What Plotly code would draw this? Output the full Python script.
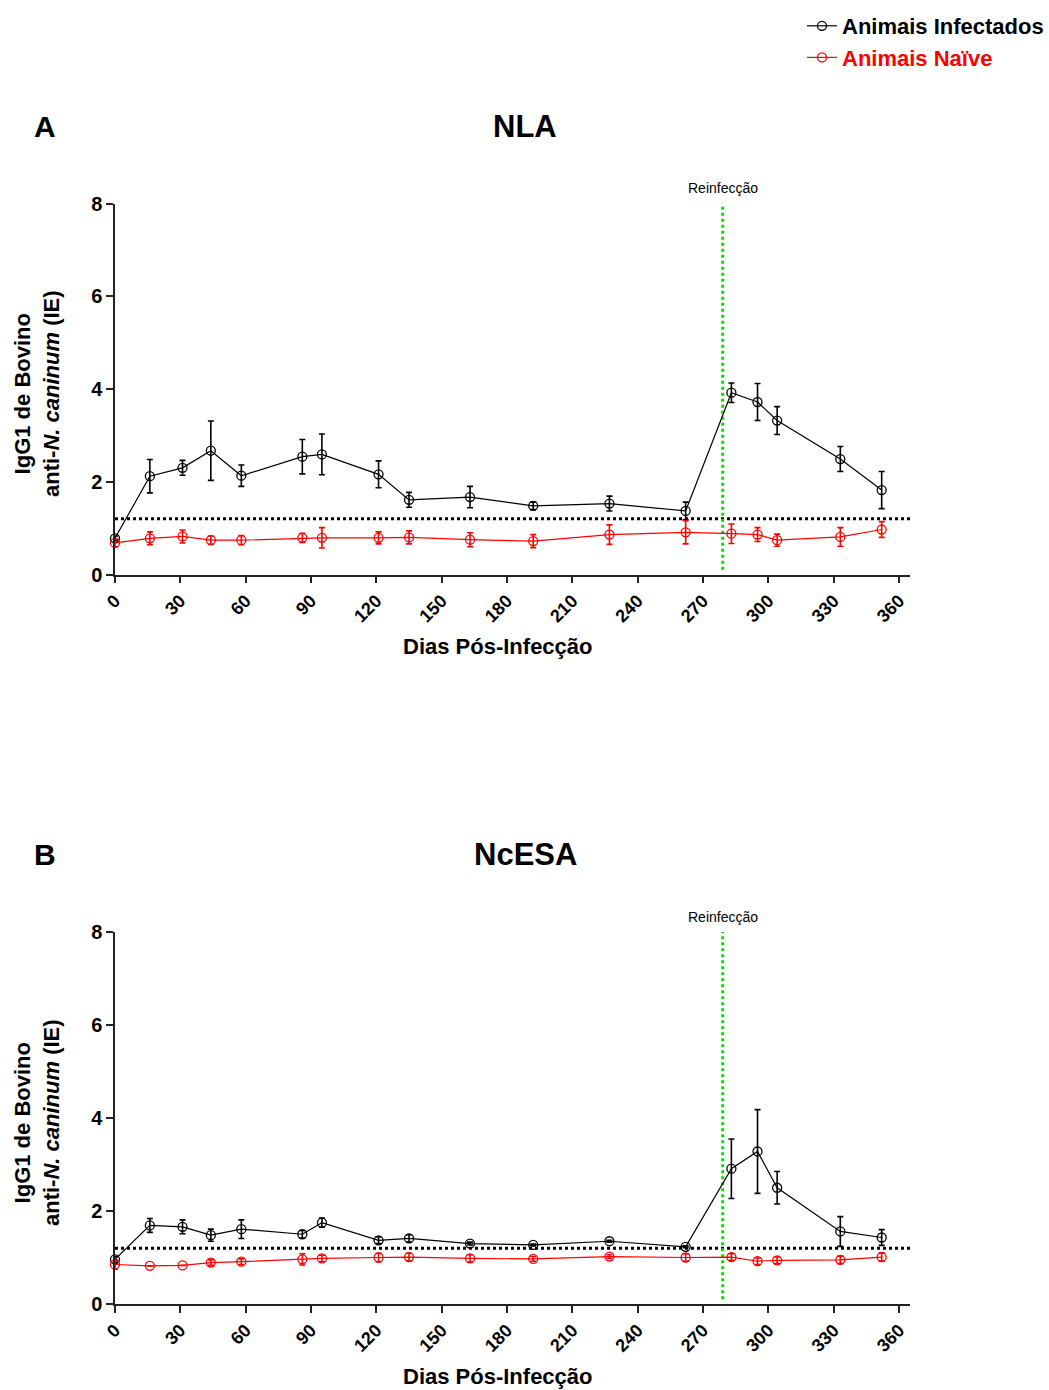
import plotly.graph_objects as go

# ---------------- data ----------------
days = [0, 16, 31, 44, 58, 86, 95, 121, 135, 163, 192, 227, 262, 283, 295, 304, 333, 352]

nla_inf = [0.78, 2.12, 2.30, 2.67, 2.13, 2.54, 2.59, 2.16, 1.61, 1.67, 1.48, 1.53, 1.37, 3.92, 3.72, 3.32, 2.49, 1.82]
nla_inf_err = [0.05, 0.36, 0.16, 0.64, 0.23, 0.37, 0.44, 0.29, 0.16, 0.23, 0.08, 0.16, 0.19, 0.21, 0.40, 0.30, 0.27, 0.40]
nla_nai = [0.68, 0.78, 0.82, 0.74, 0.74, 0.79, 0.79, 0.79, 0.80, 0.75, 0.72, 0.86, 0.91, 0.88, 0.86, 0.74, 0.81, 0.97]
nla_nai_err = [0.08, 0.14, 0.14, 0.09, 0.10, 0.10, 0.22, 0.13, 0.14, 0.15, 0.14, 0.21, 0.25, 0.21, 0.15, 0.13, 0.20, 0.17]

ncesa_inf = [0.96, 1.69, 1.66, 1.48, 1.61, 1.50, 1.75, 1.37, 1.41, 1.30, 1.27, 1.35, 1.23, 2.91, 3.28, 2.50, 1.56, 1.43]
ncesa_inf_err = [0.06, 0.15, 0.15, 0.13, 0.20, 0.08, 0.10, 0.07, 0.08, 0.03, 0.02, 0.02, 0.02, 0.64, 0.90, 0.35, 0.32, 0.17]
ncesa_nai = [0.85, 0.82, 0.83, 0.89, 0.91, 0.96, 0.98, 1.00, 1.01, 0.98, 0.97, 1.02, 1.00, 1.01, 0.92, 0.94, 0.95, 1.01]
ncesa_nai_err = [0.10, 0.0, 0.0, 0.06, 0.06, 0.12, 0.07, 0.09, 0.08, 0.08, 0.05, 0.04, 0.08, 0.07, 0.07, 0.07, 0.08, 0.09]

cutoff = 1.2
reinfection_day = 279
x_ticks = [0, 30, 60, 90, 120, 150, 180, 210, 240, 270, 300, 330, 360]
y_ticks = [0, 2, 4, 6, 8]

series_names = ["Animais Infectados", "Animais Naïve"]
panels = [("A", "NLA"), ("B", "NcESA")]

FONT = "Arial, Liberation Sans, sans-serif"
GREEN = "#00e000"

fig = go.Figure()


def add_series(xa, ya, y, err, color, name, show):
    fig.add_trace(go.Scatter(
        x=days, y=y, xaxis=xa, yaxis=ya, mode="lines+markers",
        name=name, showlegend=show, legendgroup=name,
        line=dict(color=color, width=1.2),
        marker=dict(symbol="circle-open", size=9, color=color, line=dict(width=1.3, color=color)),
        error_y=dict(type="data", array=err, visible=True, color=color, thickness=1.6, width=3),
        cliponaxis=False,
    ))


add_series("x", "y", nla_inf, nla_inf_err, "black", series_names[0], True)
add_series("x", "y", nla_nai, nla_nai_err, "red",
           '<span style="color:red">' + series_names[1] + '</span>', True)
add_series("x2", "y2", ncesa_inf, ncesa_inf_err, "black", series_names[0], False)
add_series("x2", "y2", ncesa_nai, ncesa_nai_err, "red",
           '<span style="color:red">' + series_names[1] + '</span>', False)

W, H = 1049, 1390
x0, x1 = 115 / W, 910 / W
domA = [1 - 574.5 / H, 1 - 203.5 / H]
domB = [1 - 1304 / H, 1 - 932 / H]

xax = dict(range=[0, 365], tickvals=x_ticks, tickangle=-45, showgrid=False, zeroline=False,
           showline=True, linecolor="#222", linewidth=1.5, ticks="outside", ticklen=7,
           tickcolor="#222", tickwidth=1.5, automargin=False,
           tickfont=dict(family=FONT, size=18, color="black", weight="bold"),
           domain=[x0, x1])
yax = dict(range=[0, 8], tickvals=y_ticks, showgrid=False, zeroline=False,
           showline=True, linecolor="#222", linewidth=1.5, ticks="outside", ticklen=7,
           tickcolor="#222", tickwidth=1.5, automargin=False,
           tickfont=dict(family=FONT, size=20, color="black", weight="bold"))

fig.update_layout(
    width=W, height=H, margin=dict(l=0, r=0, t=0, b=0, autoexpand=False),
    paper_bgcolor="white", plot_bgcolor="white",
    font=dict(family=FONT, color="black"),
    xaxis=dict(xax, anchor="y"),
    yaxis=dict(yax, domain=domA, anchor="x"),
    xaxis2=dict(xax, anchor="y2"),
    yaxis2=dict(yax, domain=domB, anchor="x2"),
    legend=dict(x=1, xanchor="right", y=1 - 5 / H, yanchor="top",
                font=dict(family=FONT, size=22, color="black", weight="bold"),
                bgcolor="rgba(0,0,0,0)", tracegroupgap=0, itemwidth=30),
)

# reference lines
for xa, ya in [("x", "y"), ("x2", "y2")]:
    fig.add_shape(type="line", xref=xa, yref=ya, x0=0, x1=365, y0=cutoff, y1=cutoff,
                  line=dict(color="black", width=3, dash="dot"), layer="below")
    fig.add_shape(type="line", xref=xa, yref=ya, x0=reinfection_day, x1=reinfection_day,
                  y0=0.1, y1=8, line=dict(color=GREEN, width=3, dash="dot"), layer="below")
    fig.add_annotation(x=reinfection_day, y=8, xref=xa, yref=ya, text="Reinfecção",
                       showarrow=False, xanchor="center", yanchor="bottom", yshift=5,
                       font=dict(family=FONT, size=14, color="black"))

# panel titles and axis titles
for (letter, title), dom in zip(panels, [domA, domB]):
    top = dom[1]
    common = dict(xref="paper", yref="paper", showarrow=False, xanchor="center", yanchor="middle")
    fig.add_annotation(x=45 / W, y=top + 77 / H, text=letter,
                       font=dict(family=FONT, size=30, weight="bold"), **common)
    fig.add_annotation(x=525 / W, y=top + 77 / H, text=title,
                       font=dict(family=FONT, size=31, weight="bold"), **common)
    fig.add_annotation(x=498 / W, y=dom[0] - 72 / H,
                       text="Dias Pós-Infecção",
                       font=dict(family=FONT, size=22, weight="bold"), **common)
    fig.add_annotation(x=37 / W, y=(dom[0] + dom[1]) / 2 - 5 / H,
                       text="IgG1 de Bovino<br>anti-<i>N. caninum</i> (IE)", textangle=-90,
                       font=dict(family=FONT, size=22, weight="bold"), **common)

fig.write_html("out.html")
